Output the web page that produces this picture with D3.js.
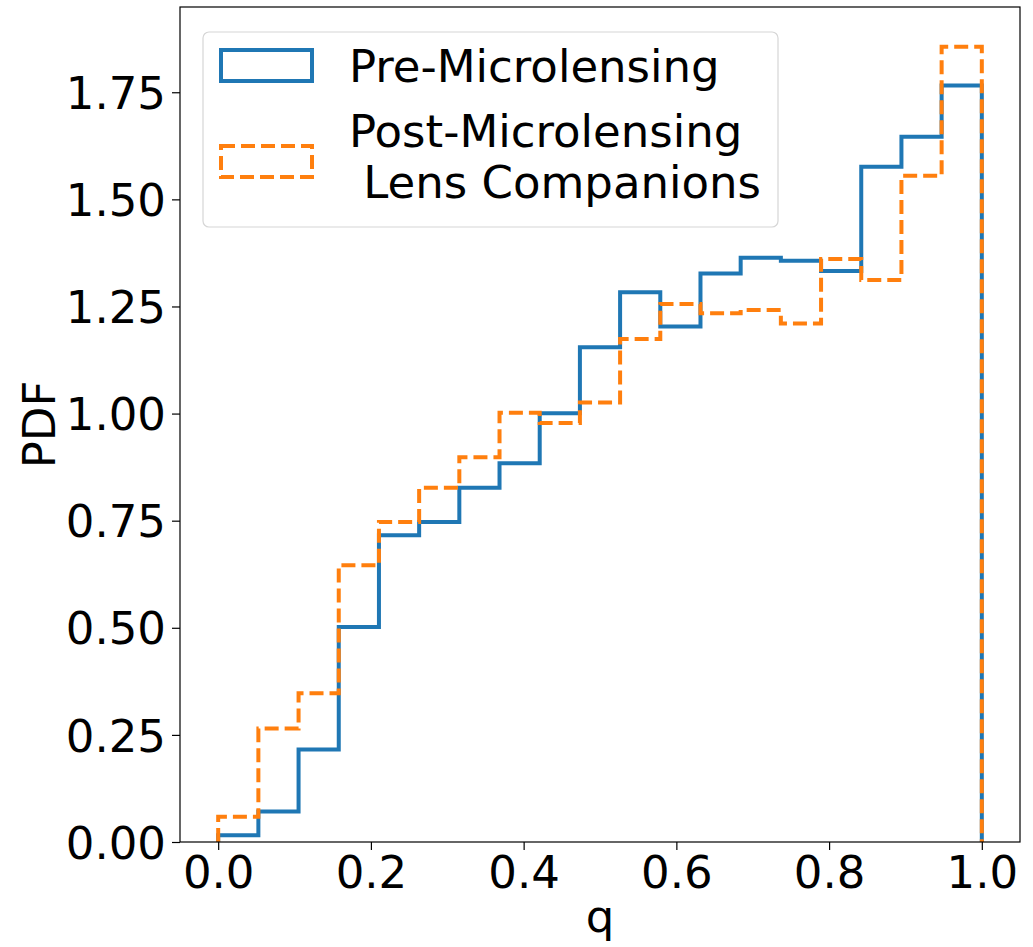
<!DOCTYPE html>
<html>
<head>
<meta charset="utf-8">
<script src="https://cdn.jsdelivr.net/npm/d3@7"></script>
<style>
  body { margin: 0; background: #fff; }
  svg { font-family: "DejaVu Sans", sans-serif; }
</style>
</head>
<body>
<svg id="chart" width="1033" height="947"></svg>
<script>
// histogram data (density, 19 equal bins between 0 and 1)
let nBins = 19;
let binEdges = d3.range(nBins + 1).map(i => i / nBins);
let preValues = [0.016, 0.071, 0.216, 0.502, 0.716, 0.747, 0.827, 0.884, 1.001, 1.155,
                 1.283, 1.203, 1.327, 1.364, 1.357, 1.333, 1.576, 1.646, 1.766];
let postValues = [0.059, 0.265, 0.347, 0.646, 0.747, 0.827, 0.898, 1.002, 0.978, 1.026,
                  1.174, 1.256, 1.234, 1.242, 1.210, 1.361, 1.312, 1.555, 1.856];
let xTicks = [0.0, 0.2, 0.4, 0.6, 0.8, 1.0];
let yTicks = [0.00, 0.25, 0.50, 0.75, 1.00, 1.25, 1.50, 1.75];
let seriesNames = ["Pre-Microlensing", ["Post-Microlensing", " Lens Companions"]];

let svg = d3.select("#chart");

let plotLeft = 180, plotRight = 1020, plotTop = 7, plotBottom = 842;
let fontSize = 45;
let blue = "#1f77b4", orange = "#ff7f0e";

let xScale = d3.scaleLinear().domain([-0.05, 1.05]).range([plotLeft, plotRight]);
let yScale = d3.scaleLinear().domain([0, 1.949]).range([plotBottom, plotTop]);

// step outline like matplotlib histtype="step"
function stepPoints(values) {
  let pts = [[0, 0]];
  values.forEach((v, i) => pts.push([binEdges[i], v]));
  pts.push([1, 0]);
  return pts;
}

let line = d3.line()
  .x(d => xScale(d[0]))
  .y(d => yScale(d[1]))
  .curve(d3.curveStepAfter);

let plot = svg.append("g");

plot.append("path")
  .attr("d", line(stepPoints(preValues)))
  .attr("fill", "none")
  .attr("stroke", blue)
  .attr("stroke-width", 4);

plot.append("path")
  .attr("d", line(stepPoints(postValues)))
  .attr("fill", "none")
  .attr("stroke", orange)
  .attr("stroke-width", 4)
  .attr("stroke-dasharray", "14,6");

// axes
let xAxis = svg.append("g")
  .attr("transform", "translate(0," + plotBottom + ")")
  .call(d3.axisBottom(xScale).tickValues(xTicks).tickFormat(d3.format(".1f")).tickSizeOuter(0).tickSize(8).tickPadding(6))
  .call(g => g.select(".domain").remove());

let yAxis = svg.append("g")
  .attr("transform", "translate(" + plotLeft + ",0)")
  .call(d3.axisLeft(yScale).tickValues(yTicks).tickFormat(d3.format(".2f")).tickSizeOuter(0).tickSize(8).tickPadding(6))
  .call(g => g.select(".domain").remove());

svg.selectAll(".tick text")
  .attr("font-size", fontSize)
  .attr("font-family", "DejaVu Sans")
  .attr("fill", "#000");
svg.selectAll(".tick line").attr("stroke", "#000").attr("stroke-width", 1.2);
yAxis.selectAll(".tick text").attr("dy", "0.36em");

// frame
svg.append("rect")
  .attr("x", plotLeft).attr("y", plotTop)
  .attr("width", plotRight - plotLeft).attr("height", plotBottom - plotTop)
  .attr("fill", "none").attr("stroke", "#000").attr("stroke-width", 1.2);

// axis labels
svg.append("text")
  .attr("x", (plotLeft + plotRight) / 2).attr("y", 932)
  .attr("text-anchor", "middle")
  .attr("font-size", fontSize)
  .text("q");

svg.append("text")
  .attr("transform", "translate(55," + ((plotTop + plotBottom) / 2) + ") rotate(-90)")
  .attr("text-anchor", "middle")
  .attr("font-size", fontSize)
  .text("PDF");

// legend
let legend = svg.append("g");
legend.append("rect")
  .attr("x", 203).attr("y", 32).attr("width", 575).attr("height", 195)
  .attr("rx", 6)
  .attr("fill", "#fff").attr("fill-opacity", 0.8)
  .attr("stroke", "#d6d6d6").attr("stroke-width", 1.2);

legend.append("rect")
  .attr("x", 221).attr("y", 50).attr("width", 91).attr("height", 31)
  .attr("fill", "none").attr("stroke", blue).attr("stroke-width", 4);
legend.append("rect")
  .attr("x", 221).attr("y", 146).attr("width", 91).attr("height", 31)
  .attr("fill", "none").attr("stroke", orange).attr("stroke-width", 4)
  .attr("stroke-dasharray", "14,6");

legend.append("text")
  .attr("x", 349).attr("y", 82)
  .attr("font-size", fontSize)
  .text(seriesNames[0]);

legend.append("text")
  .attr("x", 349).attr("y", 147)
  .attr("font-size", fontSize)
  .attr("xml:space", "preserve")
  .style("white-space", "pre")
  .selectAll("tspan")
  .data(seriesNames[1])
  .enter()
  .append("tspan")
  .attr("x", 349)
  .attr("dy", (d, i) => i === 0 ? 0 : 51)
  .text(d => d);
</script>
</body>
</html>
